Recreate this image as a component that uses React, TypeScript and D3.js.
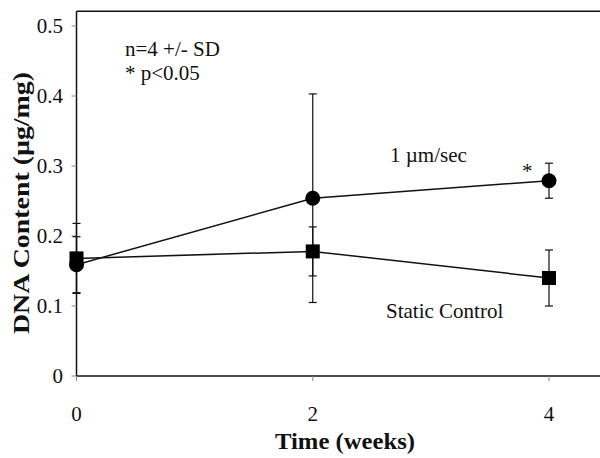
import React from "react";
import * as d3 from "d3";

// time points (weeks)
const weeks = [0, 2, 4];
// 1 um/sec perfusion
const flowMean = [0.159, 0.254, 0.279];
const flowSD = [0.04, 0.149, 0.025];
// static control
const staticMean = [0.168, 0.178, 0.14];
const staticSD = [0.05, 0.035, 0.04];

const yTicks = [0, 0.1, 0.2, 0.3, 0.4, 0.5];
const yTickLabels = ["0", "0.1", "0.2", "0.3", "0.4", "0.5"];
const xTicks = [0, 2, 4];

const width = 600;
const height = 458;
const font = "'Times New Roman', 'Liberation Serif', 'DejaVu Serif', serif";

const App = () => {
  const x = d3.scaleLinear().domain([0, 4]).range([76.5, 549]);
  const y = d3.scaleLinear().domain([0, 0.5]).range([376, 26]);
  const top = y(0.521);

  const line = d3
    .line<number>()
    .x((d, i) => x(weeks[i]))
    .y((d) => y(d));

  const errBars = (mean: number[], sd: number[]) =>
    mean.map((m, i) => {
      const cx = x(weeks[i]);
      const y1 = y(m + sd[i]);
      const y2 = y(m - sd[i]);
      return (
        <g key={i} stroke="#111" strokeWidth={1.2}>
          <line x1={cx} x2={cx} y1={y1} y2={y2} />
          <line x1={cx - 4} x2={cx + 4} y1={y1} y2={y1} />
          <line x1={cx - 4} x2={cx + 4} y1={y2} y2={y2} />
        </g>
      );
    });

  return (
    <svg
      width={width}
      height={height}
      style={{ position: "absolute", left: 0, top: 0, background: "#fff" }}
    >
      {/* frame */}
      <g stroke="#111" strokeWidth={1.5} fill="none">
        <line x1={x(0)} x2={width} y1={top} y2={top} />
        <line x1={x(0)} x2={x(0)} y1={top} y2={y(0)} />
        <line x1={x(0)} x2={width} y1={y(0)} y2={y(0)} />
      </g>

      {/* y ticks */}
      {yTicks.map((t, i) => (
        <g key={t}>
          <line x1={x(0) - 5} x2={x(0)} y1={y(t)} y2={y(t)} stroke="#888" strokeWidth={1} />
          <text
            x={63}
            y={y(t)}
            dy="0.35em"
            textAnchor="end"
            style={{ fontFamily: font }}
            fontSize={21}
            fill="#111"
          >
            {yTickLabels[i]}
          </text>
        </g>
      ))}

      {/* x ticks */}
      {xTicks.map((t) => (
        <g key={t}>
          <line x1={x(t)} x2={x(t)} y1={y(0)} y2={y(0) + 5} stroke="#888" strokeWidth={1} />
          <text
            x={x(t)}
            y={421}
            textAnchor="middle"
            style={{ fontFamily: font }}
            fontSize={21}
            fill="#111"
          >
            {t}
          </text>
        </g>
      ))}

      {/* axis titles */}
      <text
        x={345}
        y={449}
        textAnchor="middle"
        style={{ fontFamily: font }}
        fontSize={24}
        fontWeight="bold"
        fill="#111"
        textLength={140}
        lengthAdjust="spacingAndGlyphs"
      >
        Time (weeks)
      </text>
      <text
        transform={`translate(29,203) rotate(-90)`}
        textAnchor="middle"
        style={{ fontFamily: font }}
        fontSize={24}
        fontWeight="bold"
        fill="#111"
        textLength={262}
        lengthAdjust="spacingAndGlyphs"
      >
        DNA Content (µg/mg)
      </text>

      {/* error bars */}
      {errBars(flowMean, flowSD)}
      {errBars(staticMean, staticSD)}

      {/* lines */}
      <path d={line(flowMean) || ""} fill="none" stroke="#111" strokeWidth={1.5} />
      <path d={line(staticMean) || ""} fill="none" stroke="#111" strokeWidth={1.5} />

      {/* markers */}
      {staticMean.map((m, i) => (
        <rect
          key={"s" + i}
          x={x(weeks[i]) - 7}
          y={y(m) - 7}
          width={14}
          height={14}
          fill="#000"
        />
      ))}
      {flowMean.map((m, i) => (
        <circle key={"f" + i} cx={x(weeks[i])} cy={y(m)} r={7.5} fill="#000" />
      ))}

      {/* annotations */}
      <g style={{ fontFamily: font }} fontSize={21} fill="#111">
        <text x={125} y={56}>n=4 +/- SD</text>
        <text x={125} y={80}>* p&lt;0.05</text>
        <text x={390} y={162}>1 µm/sec</text>
        <text x={522} y={178}>*</text>
        <text x={386} y={318}>Static Control</text>
      </g>
    </svg>
  );
};

export default App;
